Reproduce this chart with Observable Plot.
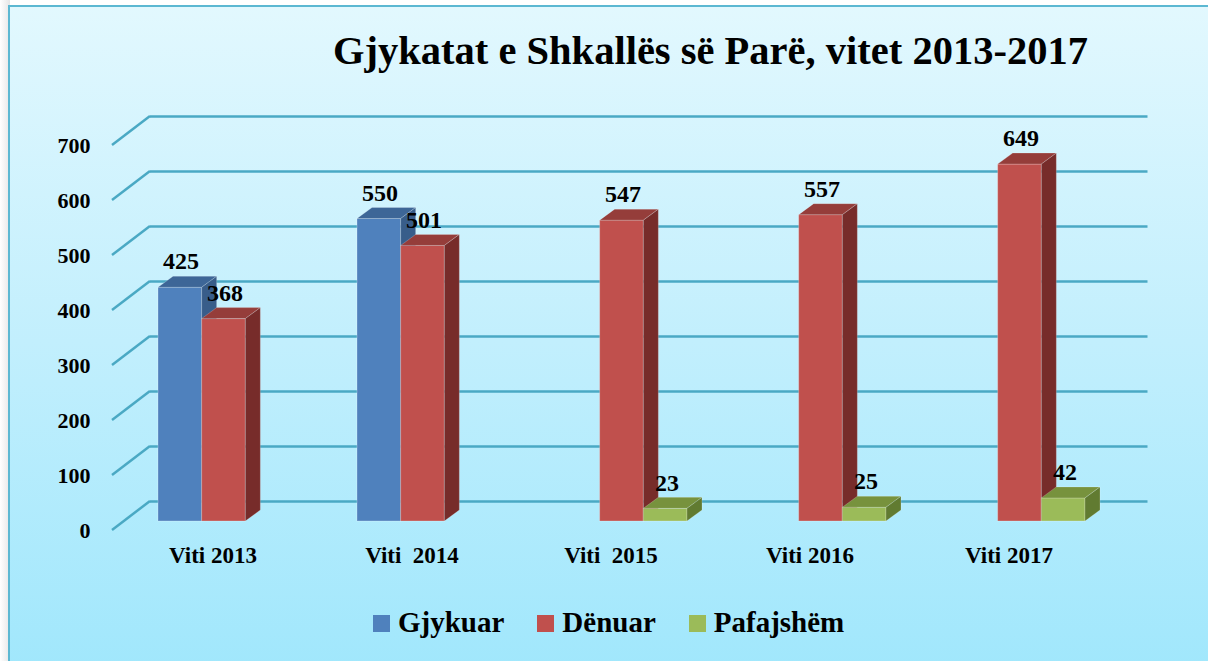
<!DOCTYPE html>
<html>
<head>
<meta charset="utf-8">
<script src="https://cdn.jsdelivr.net/npm/d3@7"></script>
<script src="https://cdn.jsdelivr.net/npm/@observablehq/plot@0.6"></script>
<style>
  html, body { margin: 0; padding: 0; background: #ffffff; }
  #page { position: relative; width: 1208px; height: 661px; overflow: hidden; font-family: "Liberation Serif", "DejaVu Serif", serif; }
  #shadow { position: absolute; left: 0; top: 0; width: 10px; height: 661px; background: linear-gradient(to right, #ffffff, #e6e6e6); }
  #frame { position: absolute; left: 8px; top: 5px; width: 1210px; height: 670px; box-sizing: border-box;
           border-left: 2px solid #5cb8d2; border-top: 2px solid #5cb8d2;
           background: linear-gradient(to bottom, #e2f8fe 0%, #c2effd 50%, #a0e7fc 100%); }
  #title { position: absolute; left: 0; width: 1421px; top: 31px; text-align: center; font-size: 40.5px; line-height: 40.5px; font-weight: bold; color: #000; }
  #chart { position: absolute; left: 0; top: 0; }
  #chart svg text { white-space: pre; font-family: "Liberation Serif", serif !important; font-weight: bold; }
  #legend { position: absolute; left: 373px; top: 608px; font-size: 29px; line-height: 29px; font-weight: bold; white-space: nowrap; color: #000; }
  .item { display: inline-block; margin-right: 33px; }
  .sw { display: inline-block; width: 17px; height: 17px; margin-right: 8px; vertical-align: baseline; }
</style>
</head>
<body>
<div id="page">
  <div id="shadow"></div>
  <div id="frame"></div>
  <div id="title"></div>
  <div id="chart"></div>
  <div id="legend"></div>
</div>
<script>
// ---- data ----
const title = "Gjykatat e Shkallës së Parë, vitet 2013-2017";
const years = ["Viti 2013", "Viti  2014", "Viti  2015", "Viti 2016", "Viti 2017"];
const series = ["Gjykuar", "Dënuar", "Pafajshëm"];
const gjykuar = [425, 550, null, null, null];
const denuar = [368, 501, 547, 557, 649];
const pafajshem = [null, null, 23, 25, 42];
const yTicks = [0, 100, 200, 300, 400, 500, 600, 700];

// ---- styles ----
const frontColors = ["#4f81bd", "#c0504d", "#9bbb59"];
const topColors = ["#3d6697", "#953d3a", "#77923d"];
const sideColors = ["#385d8a", "#772c2a", "#617b31"];
const gridColor = "#4aa9c4";
const FONT = "Liberation Serif, serif";

const seriesValues = [gjykuar, denuar, pafajshem];
const rows = [];
years.forEach((year, yi) => {
  series.forEach((s, si) => {
    const v = seriesValues[si][yi];
    if (v != null) rows.push({year, series: s, si, value: v});
  });
});

document.getElementById("title").textContent = title;

const W = 1208, H = 600;
const mL = 123, mR = 87.5, mT = 136, mB = 79;
const padIn = 0.34, padOut = 0.17;
const step = (W - mL - mR) / (years.length - padIn + 2 * padOut);
const subW = step * (1 - padIn) / series.length;
const DX = 15, DY = -11;           // bar depth
const BX = 27, BY = -20;           // back wall offset from bar front plane
const FX = -11, FY = 9;            // front floor edge offset

function bandwidthOf(x) { return typeof x.bandwidth === "function" ? x.bandwidth() : x.bandwidth; }

function bars3d(index, scales, values, dims) {
  const g = d3.create("svg:g");
  const sw = bandwidthOf(scales.x) / series.length;
  for (const i of index) {
    const d = rows[i];
    const x0 = scales.x(d.year) + d.si * sw, x1 = x0 + sw;
    const yt = scales.y(d.value), yb = scales.y(0);
    g.append("rect").attr("x", x0).attr("y", yt).attr("width", x1 - x0).attr("height", yb - yt)
      .attr("fill", frontColors[d.si]).attr("stroke", "rgba(255,255,255,0.25)").attr("stroke-width", 1);
    g.append("path").attr("d", `M${x0},${yt}L${x0 + DX},${yt + DY}L${x1 + DX},${yt + DY}L${x1},${yt}Z`)
      .attr("fill", topColors[d.si]).attr("stroke", "rgba(255,255,255,0.2)").attr("stroke-width", 1);
    g.append("path").attr("d", `M${x1},${yt}L${x1 + DX},${yt + DY}L${x1 + DX},${yb + DY}L${x1},${yb}Z`)
      .attr("fill", sideColors[d.si]).attr("stroke", "rgba(255,255,255,0.2)").attr("stroke-width", 1);
  }
  return g.node();
}

function diagonals(index, scales, values, dims) {
  const g = d3.create("svg:g");
  for (const i of index) {
    const y = scales.y(yTicks[i]);
    g.append("path")
      .attr("d", `M${dims.marginLeft + FX},${y + FY}L${dims.marginLeft + BX},${y + BY}`)
      .attr("stroke", gridColor).attr("stroke-width", 2.5).attr("fill", "none");
  }
  return g.node();
}

const chart = Plot.plot({
  width: W, height: H,
  marginLeft: mL, marginRight: mR, marginTop: mT, marginBottom: mB,
  style: { background: "transparent", fontFamily: FONT, overflow: "visible" },
  x: { type: "band", domain: years, paddingInner: padIn, paddingOuter: padOut, axis: null },
  y: { domain: [0, 700], axis: null },
  marks: [
    Plot.ruleY(yTicks, { y: d => d, dx: BX, dy: BY, stroke: gridColor, strokeWidth: 2.5 }),
    Plot.ruleY(yTicks, { y: d => d, render: diagonals }),
    Plot.text(yTicks, { y: d => d, frameAnchor: "left", textAnchor: "end", dx: -33, dy: FY,
      text: d => String(d), fontSize: 22, fontWeight: "bold", fontFamily: FONT, fill: "#000" }),
    Plot.text(years, { x: d => d, frameAnchor: "bottom", dx: FX, dy: 41, text: d => d,
      fontSize: 23, fontWeight: "bold", fontFamily: FONT, fill: "#000" }),
    Plot.barY(rows, { x: "year", y: "value", render: bars3d }),
    ...series.map((s, si) => Plot.text(rows.filter(r => r.si === si), {
      x: "year", y: "value", text: d => String(d.value), dx: (si - 1) * subW + 1, dy: -26,
      fontSize: 24, fontWeight: "bold", fontFamily: FONT, fill: "#000" }))
  ]
});
document.getElementById("chart").appendChild(chart);

// legend
const legend = d3.select("#legend");
series.forEach((s, si) => {
  const it = legend.append("span").attr("class", "item");
  it.append("span").attr("class", "sw").style("background", frontColors[si]);
  it.append("span").text(s);
});
</script>
</body>
</html>
